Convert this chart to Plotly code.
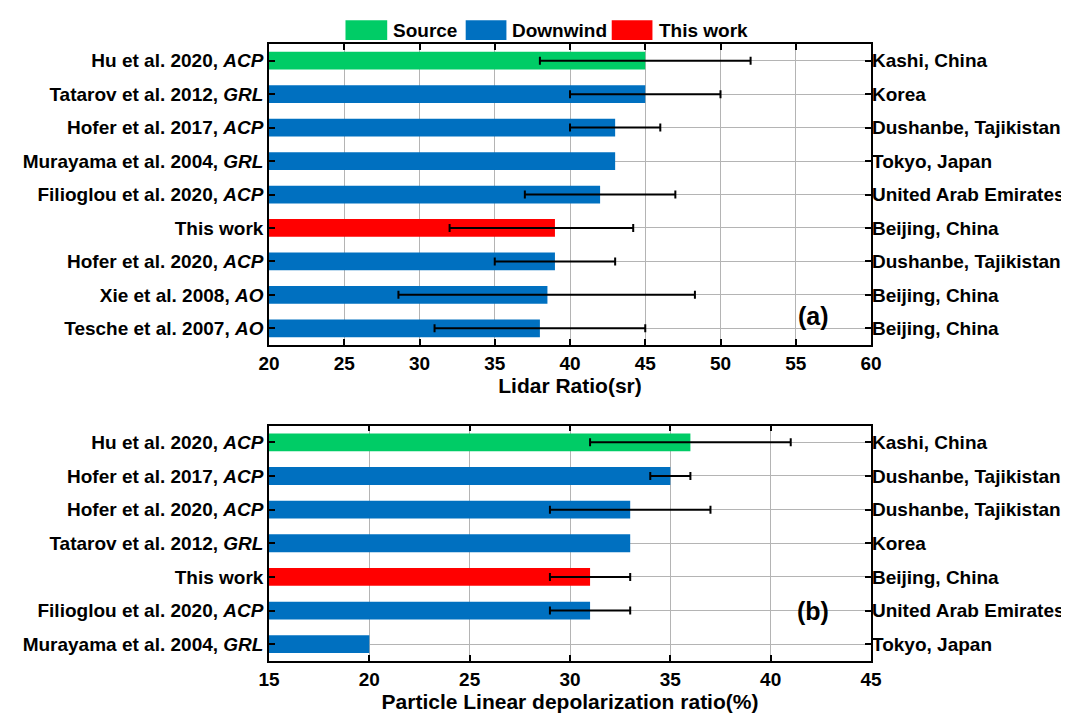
import plotly.graph_objects as go

# ---------------- data ----------------
lr_refs = ["Hu et al. 2020, ACP", "Tatarov et al. 2012, GRL", "Hofer et al. 2017, ACP",
           "Murayama et al. 2004, GRL", "Filioglou et al. 2020, ACP", "This work",
           "Hofer et al. 2020, ACP", "Xie et al. 2008, AO", "Tesche et al. 2007, AO"]
lr_labels = ["Hu et al. 2020, <i>ACP</i>", "Tatarov et al. 2012, <i>GRL</i>", "Hofer et al. 2017, <i>ACP</i>",
             "Murayama et al. 2004, <i>GRL</i>", "Filioglou et al. 2020, <i>ACP</i>", "This work",
             "Hofer et al. 2020, <i>ACP</i>", "Xie et al. 2008, <i>AO</i>", "Tesche et al. 2007, <i>AO</i>"]
lr_values = [45, 45, 43, 43, 42, 39, 39, 38.5, 38]
lr_err_plus = [7, 5, 3, None, 5, 5.2, 4, 9.8, 7]
lr_err_minus = [7, 5, 3, None, 5, 7, 4, 9.9, 7]
lr_sites = ["Kashi, China", "Korea", "Dushanbe, Tajikistan", "Tokyo, Japan", "United Arab Emirates",
            "Beijing, China", "Dushanbe, Tajikistan", "Beijing, China", "Beijing, China"]
lr_groups = ["Source", "Downwind", "Downwind", "Downwind", "Downwind", "This work",
             "Downwind", "Downwind", "Downwind"]

dr_refs = ["Hu et al. 2020, ACP", "Hofer et al. 2017, ACP", "Hofer et al. 2020, ACP",
           "Tatarov et al. 2012, GRL", "This work", "Filioglou et al. 2020, ACP",
           "Murayama et al. 2004, GRL"]
dr_labels = ["Hu et al. 2020, <i>ACP</i>", "Hofer et al. 2017, <i>ACP</i>", "Hofer et al. 2020, <i>ACP</i>",
             "Tatarov et al. 2012, <i>GRL</i>", "This work", "Filioglou et al. 2020, <i>ACP</i>",
             "Murayama et al. 2004, <i>GRL</i>"]
dr_values = [36, 35, 33, 33, 31, 31, 20]
dr_err_plus = [5, 1, 4, None, 2, 2, None]
dr_err_minus = [5, 1, 4, None, 2, 2, None]
dr_sites = ["Kashi, China", "Dushanbe, Tajikistan", "Dushanbe, Tajikistan", "Korea",
            "Beijing, China", "United Arab Emirates", "Tokyo, Japan"]
dr_groups = ["Source", "Downwind", "Downwind", "Downwind", "This work", "Downwind", "Downwind"]

group_names = ["Source", "Downwind", "This work"]
group_colors = {"Source": "#00CC66", "Downwind": "#0070C0", "This work": "#FF0000"}

lr_ticks = [20, 25, 30, 35, 40, 45, 50, 55, 60]
dr_ticks = [15, 20, 25, 30, 35, 40, 45]

# ---------------- styling ----------------
FONT = "Liberation Sans, Arial, sans-serif"
W, H = 1069, 714
L, R, T, B = 261, 202, 36, 57
PW, PH = W - L - R, H - T - B


def px_x(p):
    return (p - L) / PW


def px_y(p):
    return (H - B - p) / PH


top_dom = [px_y(339), 1.0]
bot_dom = [0.0, px_y(420)]

fig = go.Figure()


def add_panel(refs, values, err_plus, err_minus, groups, xa, ya, ya_right):
    fig.add_trace(go.Bar(
        x=values, y=refs, orientation="h",
        marker=dict(color=[group_colors[g] for g in groups], line=dict(width=0)),
        width=0.53,
        xaxis=xa, yaxis=ya, showlegend=False, hoverinfo="x+y",
    ))
    # error bars only for the entries that have one
    idx = [i for i, e in enumerate(err_plus) if e is not None]
    fig.add_trace(go.Scatter(
        x=[values[i] for i in idx], y=[refs[i] for i in idx], mode="markers",
        marker=dict(size=1, opacity=0),
        error_x=dict(type="data", symmetric=False,
                     array=[err_plus[i] for i in idx],
                     arrayminus=[err_minus[i] for i in idx], visible=True,
                     color="black", thickness=2, width=4),
        xaxis=xa, yaxis=ya, showlegend=False, hoverinfo="skip",
    ))
    fig.add_trace(go.Scatter(
        x=values, y=refs, mode="markers", marker=dict(opacity=0),
        xaxis=xa, yaxis=ya_right, showlegend=False, hoverinfo="skip",
    ))


add_panel(lr_refs, lr_values, lr_err_plus, lr_err_minus, lr_groups, "x", "y", "y3")
add_panel(dr_refs, dr_values, dr_err_plus, dr_err_minus, dr_groups, "x2", "y2", "y4")

tickfont = dict(family=FONT, size=19, color="black", weight="bold")
common_x = dict(showline=True, linecolor="black", linewidth=1.5, mirror="ticks",
                ticks="inside", ticklen=6, tickwidth=1.5, tickcolor="black",
                showgrid=True, gridcolor="#b4b4b4", gridwidth=1, zeroline=False,
                tickfont=tickfont)
common_y = dict(showline=True, linecolor="black", linewidth=1.5, mirror="ticks",
                ticks="inside", ticklen=6, tickwidth=1.5, tickcolor="black",
                showgrid=True, gridcolor="#b4b4b4", gridwidth=1, zeroline=False,
                type="category", tickfont=tickfont)
right_y = dict(side="right", showline=False, ticks="", showgrid=False, zeroline=False,
               type="category", tickfont=tickfont)

fig.update_layout(
    width=W, height=H,
    margin=dict(l=L, r=R, t=T, b=B),
    paper_bgcolor="white", plot_bgcolor="white",
    font=dict(family=FONT, size=19, color="black", weight="bold"),
    xaxis=dict(domain=[0, 1], anchor="y", range=[lr_ticks[0], lr_ticks[-1]], tickvals=lr_ticks,
               title=dict(text="Lidar Ratio(sr)", font=dict(family=FONT, size=21, weight="bold"), standoff=6),
               **common_x),
    yaxis=dict(domain=top_dom, anchor="x", categoryorder="array", categoryarray=lr_refs,
               range=[len(lr_refs) - 0.5, -0.5], tickvals=lr_refs, ticktext=lr_labels, **common_y),
    yaxis3=dict(overlaying="y", anchor="x", categoryorder="array", categoryarray=lr_refs,
                range=[len(lr_refs) - 0.5, -0.5], tickvals=lr_refs, ticktext=lr_sites, **right_y),
    xaxis2=dict(domain=[0, 1], anchor="y2", range=[dr_ticks[0], dr_ticks[-1]], tickvals=dr_ticks,
                title=dict(text="Particle Linear depolarization ratio(%)", font=dict(family=FONT, size=21, weight="bold"), standoff=6),
                **common_x),
    yaxis2=dict(domain=bot_dom, anchor="x2", categoryorder="array", categoryarray=dr_refs,
                range=[len(dr_refs) - 0.5, -0.5], tickvals=dr_refs, ticktext=dr_labels, **common_y),
    yaxis4=dict(overlaying="y2", anchor="x2", categoryorder="array", categoryarray=dr_refs,
                range=[len(dr_refs) - 0.5, -0.5], tickvals=dr_refs, ticktext=dr_sites, **right_y),
)

# panel labels
fig.add_annotation(text="(a)", xref="paper", yref="paper", x=px_x(827), y=px_y(310),
                   showarrow=False, font=dict(family=FONT, size=25, weight="bold", color="black"))
fig.add_annotation(text="(b)", xref="paper", yref="paper", x=px_x(827), y=px_y(623),
                   showarrow=False, font=dict(family=FONT, size=25, weight="bold", color="black"))

# custom legend (boxes + labels)
legend_boxes = {"Source": (338, 380, 384), "Downwind": (459, 500, 504), "This work": (606, 647, 652)}
for g in group_names:
    x0, x1, tx = legend_boxes[g]
    fig.add_shape(type="rect", xref="paper", yref="paper", x0=px_x(x0), x1=px_x(x1),
                  y0=px_y(32), y1=px_y(12), fillcolor=group_colors[g], line=dict(width=0))
    fig.add_annotation(text=g, xref="paper", yref="paper", x=px_x(tx), y=px_y(22),
                       xanchor="left", yanchor="middle", showarrow=False,
                       font=dict(family=FONT, size=19, weight="bold", color="black"))

fig.write_html("out.html")
